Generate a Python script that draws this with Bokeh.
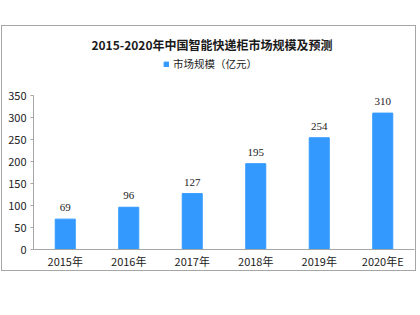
from bokeh.plotting import figure
from bokeh.models import (ColumnDataSource, Legend, LegendItem, LabelSet, Label,
                          SingleIntervalTicker)
from bokeh.embed import file_html
from bokeh.resources import INLINE

# data
years = ["2015年", "2016年", "2017年", "2018年", "2019年", "2020年E"]
market_size = [69, 96, 127, 195, 254, 310]
series_name = "市场规模（亿元）"
title_text = "2015-2020年中国智能快递柜市场规模及预测"

src = ColumnDataSource(dict(x=years, y=market_size, lab=[str(v) for v in market_size]))

CJK = "Noto Sans CJK SC"
GREY = "#a6a6a6"

# frame spans from y=0 up to the top of the bordered box; axis limited to 0..350
Y_TOP = 350 * 223 / 154

p = figure(width=415, height=246, x_range=years, y_range=(0, Y_TOP),
           output_backend="svg", toolbar_location=None,
           min_border_left=31, min_border_right=3, min_border_top=0, min_border_bottom=23,
           styles={"border": "1px solid #a6a6a6", "margin-top": "25px", "margin-left": "1px"})

r = p.vbar(x="x", top="y", width=0.315, source=src, color="#3399ff")

labels = LabelSet(x="x", y="y", text="lab", source=src, text_align="center",
                  text_baseline="bottom", y_offset=8, text_font=CJK,
                  text_font_size="11px", text_color="#222222")
p.add_layout(labels)

title = Label(x=2.81, y=205 / 0.44, text=title_text,
              text_align="center", text_baseline="middle", text_font=CJK,
              text_font_size="12px", text_font_style="bold", text_color="#1a1a1a")
p.add_layout(title)

legend = Legend(items=[LegendItem(label=series_name, renderers=[r])],
                orientation="horizontal", location=(130, 178),
                label_text_font=CJK, label_text_font_size="10.5px",
                label_text_color="#222222", glyph_width=6, glyph_height=6,
                border_line_color=None, background_fill_alpha=0,
                padding=0, margin=0, label_standoff=4)
p.add_layout(legend)

p.xgrid.visible = False
p.ygrid.visible = False
p.outline_line_color = None

p.yaxis.bounds = (0, 350)
p.yaxis.ticker = SingleIntervalTicker(interval=50)
p.yaxis.minor_tick_line_color = None
p.yaxis.minor_tick_out = 0
p.yaxis.major_tick_in = 0
p.yaxis.major_tick_out = 3
p.yaxis.axis_line_color = GREY
p.yaxis.major_tick_line_color = GREY
p.yaxis.major_label_text_font = CJK
p.yaxis.major_label_text_font_size = "11px"
p.yaxis.major_label_text_color = "#222222"
p.yaxis.major_label_standoff = 4

p.xaxis.axis_line_color = GREY
p.xaxis.major_tick_line_color = None
p.xaxis.minor_tick_line_color = None
p.xaxis.major_tick_in = 0
p.xaxis.major_tick_out = 0
p.xaxis.minor_tick_in = 0
p.xaxis.minor_tick_out = 0
p.xaxis.major_label_text_font = CJK
p.xaxis.major_label_text_font_size = "11px"
p.xaxis.major_label_text_color = "#222222"
p.xaxis.major_label_standoff = 3

open("out.html", "w").write(file_html(p, INLINE))
